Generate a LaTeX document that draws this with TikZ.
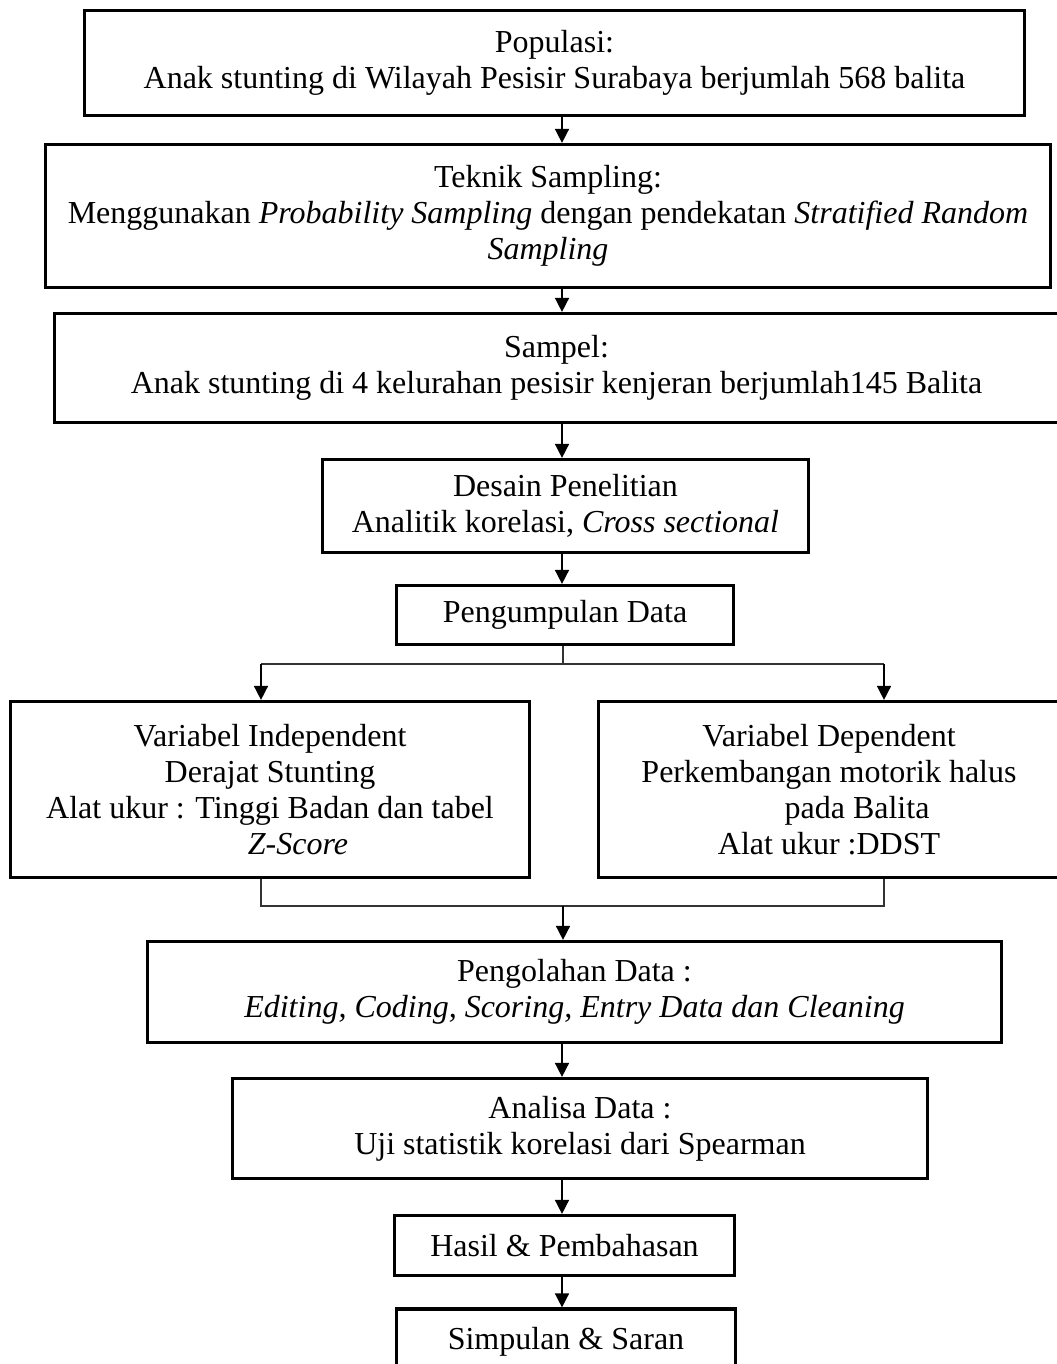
\documentclass[tikz,border=0pt]{standalone}
\usepackage{fontspec}
\setmainfont{Liberation Serif}
\usepackage{tikz}
\usetikzlibrary{arrows.meta}

\tikzset{
  box/.style={draw, line width=1.6pt, align=center, inner sep=0pt,
    font=\fontsize{16pt}{18pt}\selectfont},
  arr/.style={-{Triangle[length=7pt, width=7pt]}, line width=0.8pt},
  link/.style={line width=0.6pt, black!80}
}

\begin{document}
\begin{tikzpicture}[x=0.5pt, y=-0.5pt]
        \useasboundingbox (0,0) rectangle (1056,1364);
        % Draw the main column of boxes
        \node[box, minimum width=470pt, minimum height=52.5pt] (pop) at (554.5,63)
          {Populasi:\\Anak stunting di Wilayah Pesisir Surabaya berjumlah 568 balita};
        \node[box, minimum width=502.5pt, minimum height=71.5pt] (tek) at (548,216)
          {Teknik Sampling:\\Menggunakan \textit{Probability Sampling} dengan pendekatan \textit{Stratified Random}\\\textit{Sampling}};
        \node[box, minimum width=502pt, minimum height=54.5pt] (sam) at (556.5,368)
          {Sampel:\\Anak stunting di 4 kelurahan pesisir kenjeran berjumlah145 Balita};
        \node[box, minimum width=243pt, minimum height=46.5pt] (des) at (565.5,506)
          {Desain Penelitian\\Analitik korelasi, \textit{Cross sectional}};
        \node[box, minimum width=168.5pt, minimum height=29.5pt] (kum) at (565,615)
          {Pengumpulan Data};
        % Draw the two variable boxes
        \node[box, minimum width=259.5pt, minimum height=88pt] (indep) at (270,789.5)
          {Variabel Independent\\Derajat Stunting\\Alat ukur : Tinggi Badan dan tabel\\\hspace*{28pt}\textit{Z-Score}};
        \node[box, minimum width=230.5pt, minimum height=88pt] (dep) at (829,789.5)
          {Variabel Dependent\\Perkembangan motorik halus\\\hspace*{28pt}pada Balita\\Alat ukur :DDST};
        % Draw the lower boxes
        \node[box, minimum width=427pt, minimum height=50.5pt] (olah) at (574.5,992)
          {Pengolahan Data :\\\textit{Editing, Coding, Scoring, Entry Data dan Cleaning}};
        \node[box, minimum width=347.5pt, minimum height=50pt] (anal) at (580,1128.5)
          {Analisa Data :\\Uji statistik korelasi dari Spearman};
        \node[box, minimum width=170pt, minimum height=30pt] (hasil) at (564.5,1245.5)
          {Hasil \& Pembahasan};
        \node[box, minimum width=169.5pt, minimum height=33pt] (simp) at (566,1342)
          {Simpulan \& Saran};
        % Points for the connectors
        \coordinate (spine) at (562,0);
        \coordinate (split) at (563,664);
        \coordinate (splitL) at (261,664);
        \coordinate (splitR) at (884,664);
        \coordinate (join) at (563,906);
        \coordinate (joinL) at (261,906);
        \coordinate (joinR) at (884,906);
        % Draw the arrows down the column
        \foreach \a/\b in {pop/tek, tek/sam, sam/des, des/kum, olah/anal, anal/hasil, hasil/simp}{
            \draw[arr] (\a.south -| spine) -- (\b.north -| spine);
        }
        % Draw the split into the two variables
        \draw[link] (kum.south -| split) -- (split);
        \draw[link] (splitL) -- (splitR);
        \draw[arr] (splitL) -- (indep.north -| splitL);
        \draw[arr] (splitR) -- (dep.north -| splitR);
        % Draw the join back to one line
        \draw[link] (indep.south -| joinL) -- (joinL) -- (joinR) -- (dep.south -| joinR);
        \draw[arr] (join) -- (olah.north -| join);
    \end{tikzpicture}
\end{document}
